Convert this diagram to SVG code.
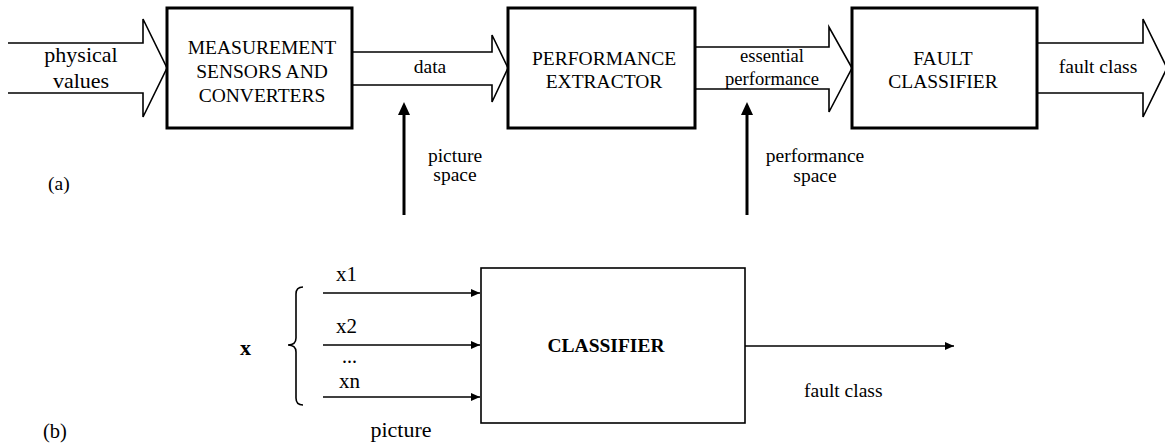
<svg xmlns="http://www.w3.org/2000/svg" width="1165" height="444" viewBox="0 0 1165 444">
<defs>
<style>
.t{font-family:"Liberation Serif","Times New Roman",serif;font-size:19.5px;fill:#000}
.c{text-anchor:middle}
.box{fill:#fff;stroke:#000;stroke-width:3}
.box2{fill:#fff;stroke:#000;stroke-width:1.6}
.big{fill:#fff;stroke:#000;stroke-width:1.6;stroke-linejoin:miter}
.ln{fill:none;stroke:#000;stroke-width:1.6}
.vl{fill:none;stroke:#000;stroke-width:3}
</style>
<marker id="ah" markerWidth="9" markerHeight="8" refX="9" refY="4" orient="auto" markerUnits="userSpaceOnUse">
<path d="M0,0 L9,4 L0,8 Z" fill="#000"/>
</marker>
</defs>
<rect width="1165" height="444" fill="#fff"/>
<g id="connectors">
<path class="big" d="M8,43 H143 V19 L167,68 L143,117 V93 H8"/>
<path class="big" d="M352,52 H492 V35 L508,68 L492,102 V85 H352"/>
<path class="big" d="M695,47 H829 V27 L852,68 L829,112 V89 H695"/>
<path class="big" d="M1037,43 H1143 V19 L1167,68 L1143,117 V93 H1037"/>
<line class="vl" x1="404" y1="215" x2="404" y2="112"/>
<path d="M404,102 L398,115 L410,115 Z" fill="#000"/>
<line class="vl" x1="747" y1="215" x2="747" y2="112"/>
<path d="M747,102 L741,115 L753,115 Z" fill="#000"/>
<path class="ln" d="M303,287 Q296,287 296,294 L296,338 Q296,345 288,345 Q296,345 296,352 L296,398 Q296,405 303,405"/>
<line class="ln" x1="323" y1="293" x2="480" y2="293" marker-end="url(#ah)"/>
<line class="ln" x1="323" y1="345" x2="480" y2="345" marker-end="url(#ah)"/>
<line class="ln" x1="323" y1="397" x2="480" y2="397" marker-end="url(#ah)"/>
<line class="ln" x1="745" y1="346" x2="954" y2="346" marker-end="url(#ah)"/>
</g>
<g id="labels">
<text class="t c" x="81" y="62" style="font-size:22px">physical</text>
<text class="t c" x="81" y="88" style="font-size:22px">values</text>
<text class="t c" x="430" y="73">data</text>
<text class="t c" x="772" y="62" style="font-size:18.6px">essential</text>
<text class="t c" x="772" y="85" style="font-size:18.6px">performance</text>
<text class="t c" x="1098" y="73">fault class</text>
<text class="t c" x="455" y="162">picture</text>
<text class="t c" x="455" y="181">space</text>
<text class="t c" x="815" y="162">performance</text>
<text class="t c" x="815" y="182">space</text>
<text class="t" x="48" y="190">(a)</text>
<text class="t" x="43" y="438" style="font-size:20.5px">(b)</text>
<text class="t" x="240" y="355" style="font-size:22px;font-weight:bold">x</text>
<text class="t" x="336" y="281" style="font-size:21px">x1</text>
<text class="t" x="336" y="333" style="font-size:21px">x2</text>
<text class="t" x="342" y="363" style="font-size:20px">...</text>
<text class="t" x="339" y="388" style="font-size:21px">xn</text>
<text class="t c" x="401" y="437" style="font-size:22px">picture</text>
<text class="t" x="804" y="397">fault class</text>
</g>
<g id="n1">
<rect class="box" x="167" y="8" width="185" height="120"/>
<text class="t c" x="262" y="54">MEASUREMENT</text>
<text class="t c" x="262" y="78">SENSORS AND</text>
<text class="t c" x="262" y="102">CONVERTERS</text>
</g>
<g id="n2">
<rect class="box" x="508" y="8" width="187" height="120"/>
<text class="t c" x="604" y="65">PERFORMANCE</text>
<text class="t c" x="604" y="88">EXTRACTOR</text>
</g>
<g id="n3">
<rect class="box" x="852" y="8" width="185" height="120"/>
<text class="t c" x="943" y="65">FAULT</text>
<text class="t c" x="943" y="88">CLASSIFIER</text>
</g>
<g id="n4">
<rect class="box2" x="481" y="268" width="264" height="155"/>
<text class="t c" x="606" y="352" style="font-weight:bold">CLASSIFIER</text>
</g>
</svg>
